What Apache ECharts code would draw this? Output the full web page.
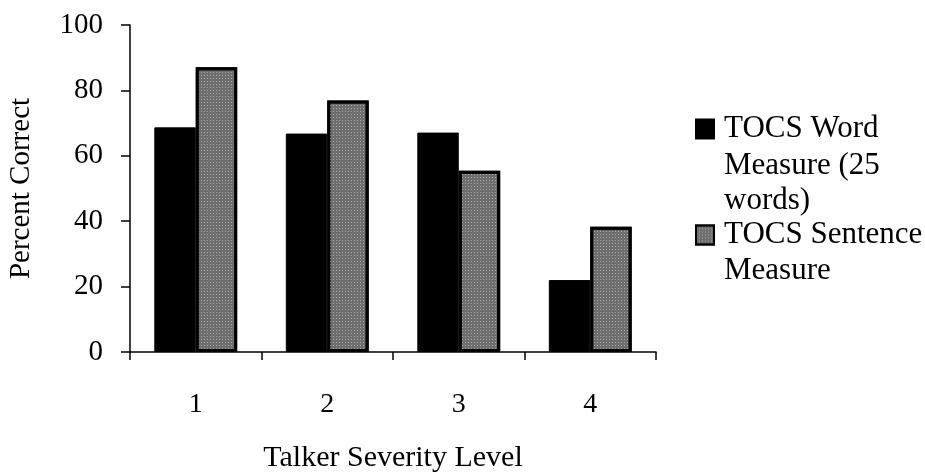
<!DOCTYPE html>
<html><head><meta charset="utf-8">
<script src="https://cdn.jsdelivr.net/npm/echarts@6/dist/echarts.min.js"></script>
<style>html,body{margin:0;padding:0;background:#fff}#c{width:925px;height:472px}</style>
</head><body><div id="c"></div>
<script>
const categories = ['1', '2', '3', '4'];
const wordMeasure = [68.7, 66.8, 67.1, 22.0];
const sentenceMeasure = [87.1, 76.9, 55.4, 38.3];
const yTicks = { min: 0, max: 100, interval: 20 };
const seriesNames = ['TOCS Word', 'TOCS Sentence'];
const wordLegendExtra = ['Measure (25', 'words)'];
const sentenceLegendExtra = ['Measure'];

const font = 'Liberation Serif, Times New Roman, serif';
const LH = 35;
const legendTextX = 724;
const firstLineY = [124, 230];
const chart = echarts.init(document.getElementById('c'), null, { renderer: 'canvas' });

const extraTexts = [];
wordLegendExtra.forEach((t, i) => extraTexts.push({ text: t, y: firstLineY[0] + LH * (i + 1) + 7 }));
sentenceLegendExtra.forEach((t, i) => extraTexts.push({ text: t, y: firstLineY[1] + LH * (i + 1) + 6 }));

chart.setOption({
  animation: false,
  backgroundColor: '#fff',
  textStyle: { fontFamily: font, color: '#000' },
  grid: { left: 130, right: 269, top: 25, bottom: 120, outerBoundsMode: 'none', containLabel: false },
  legend: {
    orient: 'vertical', left: 690, top: firstLineY[0] - LH / 2,
    itemWidth: 18, itemHeight: 19, itemGap: (firstLineY[1] - firstLineY[0]) - LH,
    icon: 'rect',
    textStyle: { fontFamily: font, fontSize: 31, color: '#000', lineHeight: LH, padding: [0, 0, 0, 5] },
    data: seriesNames
  },
  graphic: extraTexts.map(e => ({
    type: 'text', left: legendTextX, top: e.y - LH / 2,
    style: { text: e.text, font: '31px ' + font, fill: '#000', lineHeight: LH, verticalAlign: 'top' }
  })),
  xAxis: {
    type: 'category', data: categories,
    name: 'Talker Severity Level', nameLocation: 'middle', nameGap: 91,
    nameTextStyle: { fontFamily: font, fontSize: 30, color: '#000' },
    axisLine: { lineStyle: { color: '#000', width: 1.5 } },
    axisTick: { show: true, length: 8, inside: false, lineStyle: { color: '#000', width: 1.5 } },
    axisLabel: { fontFamily: font, fontSize: 28, color: '#000', margin: 39 }
  },
  yAxis: {
    type: 'value', min: yTicks.min, max: yTicks.max, interval: yTicks.interval,
    name: 'Percent Correct', nameLocation: 'middle', nameGap: 94, nameRotate: 90,
    nameTextStyle: { fontFamily: font, fontSize: 29, color: '#000' },
    axisLine: { show: true, lineStyle: { color: '#000', width: 1.5 } },
    axisTick: { show: true, length: 9, lineStyle: { color: '#000', width: 1.5 } },
    splitLine: { show: false },
    axisLabel: { fontFamily: font, fontSize: 29, color: '#000', margin: 27 }
  },
  series: [
    {
      name: seriesNames[0], type: 'bar', data: wordMeasure,
      barGap: '0%', barCategoryGap: '37%',
      itemStyle: { color: '#000', borderColor: '#000', borderWidth: 1 }
    },
    {
      name: seriesNames[1], type: 'bar', data: sentenceMeasure,
      barGap: '0%', barCategoryGap: '37%',
      itemStyle: {
        color: '#6e6e6e', borderColor: '#000', borderWidth: 3,
        decal: { symbol: 'rect', symbolSize: 1, dashArrayX: [1, 2], dashArrayY: [1, 2], color: '#a8a8a8', rotation: 0 }
      }
    }
  ]
});
</script></body></html>
